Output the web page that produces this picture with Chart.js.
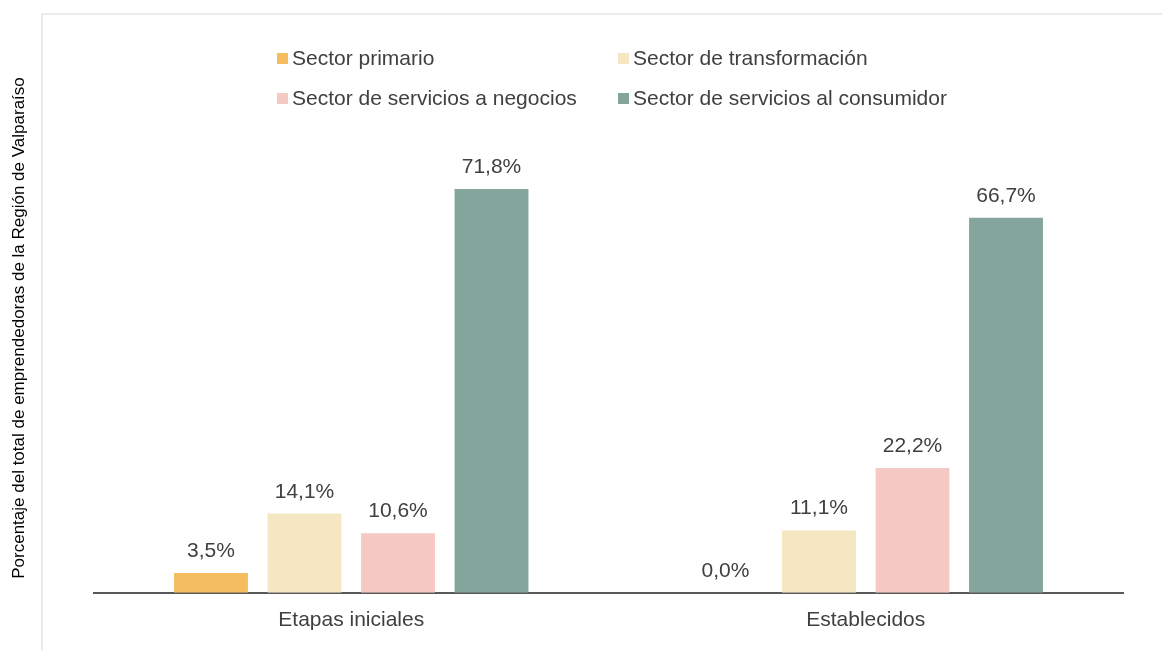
<!DOCTYPE html>
<html>

<head>
    <meta charset="UTF-8">
    <title>Emprendedoras por sector</title>
    <script src="https://cdn.jsdelivr.net/npm/chart.js"></script>
    <style>
        body {
            margin: 0;
            background: #ffffff;
        }

        #wrap {
            position: relative;
            width: 1162px;
            height: 650px;
            overflow: hidden;
        }

        /* marco gris claro del grafico */
        #frame {
            position: absolute;
            left: 41px;
            top: 13px;
            width: 1200px;
            height: 700px;
            border-top: 2px solid #ebebeb;
            border-left: 2px solid #ebebeb;
        }

        #chart {
            position: absolute;
            left: 0;
            top: 0;
        }
    </style>
</head>

<body>
    <div id="wrap">
        <div id="frame"></div>
        <canvas id="chart" width="1162" height="650"></canvas>
    </div>

    <script>
        var categorias = ['Etapas iniciales', 'Establecidos'];
        var sectores = ['Sector primario', 'Sector de transformación',
            'Sector de servicios a negocios', 'Sector de servicios al consumidor'];
        var colores = ['#f4bd5f', '#f5e7c1', '#f6cac4', '#84a59c'];

        var primario = [3.5, 0.0];
        var transformacion = [14.1, 11.1];
        var negocios = [10.6, 22.2];
        var consumidor = [71.8, 66.7];

        var ejeY = 'Porcentaje del total de emprendedoras de la Región de Valparaíso';
        var fuente = '"Liberation Sans", Arial, sans-serif';
        var colorTexto = '#404040';

        // etiquetas de valor encima de cada barra
        var etiquetas = {
            id: 'etiquetas',
            afterDatasetsDraw: function (chart) {
                var ctx = chart.ctx;
                ctx.save();
                ctx.font = '21px ' + fuente;
                ctx.fillStyle = colorTexto;
                ctx.textAlign = 'center';
                ctx.textBaseline = 'alphabetic';
                chart.data.datasets.forEach(function (ds, i) {
                    chart.getDatasetMeta(i).data.forEach(function (bar, j) {
                        var txt = ds.data[j].toFixed(1).replace('.', ',') + '%';
                        ctx.fillText(txt, bar.x, bar.y - 16);
                    });
                });
                ctx.restore();
            }
        };

        // leyenda en dos columnas y titulo vertical
        var leyenda = {
            id: 'leyenda',
            afterDraw: function (chart) {
                var ctx = chart.ctx;
                var cols = [277, 618];
                var filas = [58, 98];
                ctx.save();
                ctx.font = '21px ' + fuente;
                ctx.textBaseline = 'middle';
                chart.data.datasets.forEach(function (ds, i) {
                    var x = cols[i % 2];
                    var y = filas[Math.floor(i / 2)];
                    ctx.fillStyle = ds.backgroundColor;
                    ctx.fillRect(x, y - 5, 11, 11);
                    ctx.fillStyle = colorTexto;
                    ctx.fillText(ds.label, x + 15, y + 1);
                });

                ctx.translate(19, 328);
                ctx.rotate(-Math.PI / 2);
                ctx.font = '17px ' + fuente;
                ctx.fillStyle = '#000000';
                ctx.textAlign = 'center';
                ctx.fillText(ejeY, 0, 0);
                ctx.restore();
            }
        };

        var series = [primario, transformacion, negocios, consumidor];

        new Chart(document.getElementById('chart'), {
            type: 'bar',
            data: {
                labels: categorias,
                datasets: series.map(function (d, i) {
                    return {
                        label: sectores[i],
                        data: d,
                        backgroundColor: colores[i],
                        categoryPercentage: 0.727,
                        barPercentage: 0.79
                    };
                })
            },
            options: {
                responsive: false,
                animation: false,
                layout: {
                    padding: { left: 94, right: 39, top: 143, bottom: 2 }
                },
                plugins: {
                    legend: { display: false },
                    tooltip: { enabled: false }
                },
                scales: {
                    x: {
                        grid: { display: false, drawTicks: false },
                        border: { display: true, color: '#595959', width: 2 },
                        ticks: {
                            padding: 15,
                            color: colorTexto,
                            font: { family: fuente, size: 21 }
                        }
                    },
                    y: {
                        display: false,
                        min: 0,
                        max: 80
                    }
                }
            },
            plugins: [etiquetas, leyenda]
        });
    </script>
</body>

</html>
